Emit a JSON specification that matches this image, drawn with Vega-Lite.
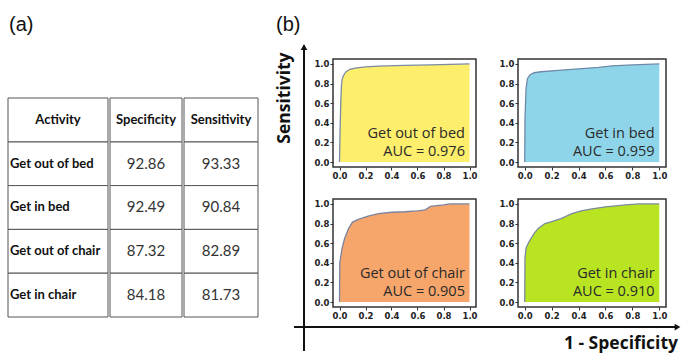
{
  "$schema": "https://vega.github.io/schema/vega-lite/v6.json",
  "background": "white",
  "padding": {"left": 7, "top": 14, "right": 0, "bottom": 0},
  "spacing": 16,
  "config": {
    "view": {"stroke": "#333", "strokeWidth": 1.5},
    "axis": {"labelFont": "DejaVu Sans", "labelFontSize": 8.5, "labelFontWeight": "bold", "labelColor": "#222", "tickColor": "#333", "tickSize": 3, "domain": false, "grid": false, "labelPadding": 1, "labelOverlap": false, "tickCount": 10}
  },
  "datasets": {
    "table": [
      {"Activity": "Get out of bed", "Specificity": 92.86, "Sensitivity": 93.33},
      {"Activity": "Get in bed", "Specificity": 92.49, "Sensitivity": 90.84},
      {"Activity": "Get out of chair", "Specificity": 87.32, "Sensitivity": 82.89},
      {"Activity": "Get in chair", "Specificity": 84.18, "Sensitivity": 81.73}
    ],
    "labels": [
      {"panel": "Get out of bed", "auc": "AUC = 0.976"},
      {"panel": "Get in bed", "auc": "AUC = 0.959"},
      {"panel": "Get out of chair", "auc": "AUC = 0.905"},
      {"panel": "Get in chair", "auc": "AUC = 0.910"}
    ],
    "roc": [
      {"panel": "Get out of bed", "fpr": 0, "tpr": 0},
      {"panel": "Get out of bed", "fpr": 0.004, "tpr": 0.3},
      {"panel": "Get out of bed", "fpr": 0.01, "tpr": 0.62},
      {"panel": "Get out of bed", "fpr": 0.015, "tpr": 0.78},
      {"panel": "Get out of bed", "fpr": 0.02, "tpr": 0.84},
      {"panel": "Get out of bed", "fpr": 0.03, "tpr": 0.88},
      {"panel": "Get out of bed", "fpr": 0.05, "tpr": 0.92},
      {"panel": "Get out of bed", "fpr": 0.08, "tpr": 0.945},
      {"panel": "Get out of bed", "fpr": 0.12, "tpr": 0.958},
      {"panel": "Get out of bed", "fpr": 0.2, "tpr": 0.97},
      {"panel": "Get out of bed", "fpr": 0.3, "tpr": 0.978},
      {"panel": "Get out of bed", "fpr": 0.5, "tpr": 0.985},
      {"panel": "Get out of bed", "fpr": 0.7, "tpr": 0.99},
      {"panel": "Get out of bed", "fpr": 0.85, "tpr": 0.995},
      {"panel": "Get out of bed", "fpr": 1, "tpr": 1},
      {"panel": "Get in bed", "fpr": 0, "tpr": 0},
      {"panel": "Get in bed", "fpr": 0.002, "tpr": 0.45},
      {"panel": "Get in bed", "fpr": 0.01, "tpr": 0.75},
      {"panel": "Get in bed", "fpr": 0.02, "tpr": 0.85},
      {"panel": "Get in bed", "fpr": 0.04, "tpr": 0.89},
      {"panel": "Get in bed", "fpr": 0.07, "tpr": 0.91},
      {"panel": "Get in bed", "fpr": 0.12, "tpr": 0.92},
      {"panel": "Get in bed", "fpr": 0.25, "tpr": 0.935},
      {"panel": "Get in bed", "fpr": 0.4, "tpr": 0.95},
      {"panel": "Get in bed", "fpr": 0.55, "tpr": 0.965},
      {"panel": "Get in bed", "fpr": 0.65, "tpr": 0.98},
      {"panel": "Get in bed", "fpr": 0.8, "tpr": 0.99},
      {"panel": "Get in bed", "fpr": 0.9, "tpr": 0.995},
      {"panel": "Get in bed", "fpr": 1, "tpr": 1},
      {"panel": "Get out of chair", "fpr": 0, "tpr": 0},
      {"panel": "Get out of chair", "fpr": 0.002, "tpr": 0.4},
      {"panel": "Get out of chair", "fpr": 0.02, "tpr": 0.55},
      {"panel": "Get out of chair", "fpr": 0.04, "tpr": 0.65},
      {"panel": "Get out of chair", "fpr": 0.07, "tpr": 0.75},
      {"panel": "Get out of chair", "fpr": 0.1, "tpr": 0.815},
      {"panel": "Get out of chair", "fpr": 0.15, "tpr": 0.845},
      {"panel": "Get out of chair", "fpr": 0.22, "tpr": 0.875},
      {"panel": "Get out of chair", "fpr": 0.3, "tpr": 0.9},
      {"panel": "Get out of chair", "fpr": 0.4, "tpr": 0.915},
      {"panel": "Get out of chair", "fpr": 0.5, "tpr": 0.92},
      {"panel": "Get out of chair", "fpr": 0.6, "tpr": 0.93},
      {"panel": "Get out of chair", "fpr": 0.66, "tpr": 0.94},
      {"panel": "Get out of chair", "fpr": 0.7, "tpr": 0.975},
      {"panel": "Get out of chair", "fpr": 0.8, "tpr": 0.99},
      {"panel": "Get out of chair", "fpr": 0.85, "tpr": 1},
      {"panel": "Get out of chair", "fpr": 1, "tpr": 1},
      {"panel": "Get in chair", "fpr": 0, "tpr": 0},
      {"panel": "Get in chair", "fpr": 0.002, "tpr": 0.45},
      {"panel": "Get in chair", "fpr": 0.01, "tpr": 0.55},
      {"panel": "Get in chair", "fpr": 0.03, "tpr": 0.61},
      {"panel": "Get in chair", "fpr": 0.07, "tpr": 0.7},
      {"panel": "Get in chair", "fpr": 0.1, "tpr": 0.75},
      {"panel": "Get in chair", "fpr": 0.15, "tpr": 0.8},
      {"panel": "Get in chair", "fpr": 0.2, "tpr": 0.82},
      {"panel": "Get in chair", "fpr": 0.27, "tpr": 0.85},
      {"panel": "Get in chair", "fpr": 0.35, "tpr": 0.9},
      {"panel": "Get in chair", "fpr": 0.42, "tpr": 0.93},
      {"panel": "Get in chair", "fpr": 0.5, "tpr": 0.95},
      {"panel": "Get in chair", "fpr": 0.6, "tpr": 0.97},
      {"panel": "Get in chair", "fpr": 0.75, "tpr": 0.99},
      {"panel": "Get in chair", "fpr": 0.85, "tpr": 1},
      {"panel": "Get in chair", "fpr": 1, "tpr": 1}
    ]
  },
  "hconcat": [
    {
      "spacing": 0,
      "hconcat": [
        {
          "width": 100, "height": 258,
          "view": {"stroke": null},
          "layer": [
            {
              "data": {"name": "table"},
              "mark": {"type": "rect", "fill": "white", "stroke": "#555", "strokeWidth": 1},
              "encoding": {"y": {"field": "Activity", "type": "nominal", "scale": {"domain": ["Activity", "Get out of bed", "Get in bed", "Get out of chair", "Get in chair"], "paddingInner": 0, "paddingOuter": 0.445, "align": 1}, "axis": null}}
            },
            {
              "data": {"values": [{"header": "Activity"}]},
              "mark": {"type": "rect", "fill": "white", "stroke": "#555", "strokeWidth": 1},
              "encoding": {"y": {"datum": "Activity", "type": "nominal"}}
            },
            {
              "data": {"values": [{"header": "Activity"}]},
              "mark": {"type": "text", "font": "Lato", "fontSize": 13, "fontWeight": "bold", "color": "#111"},
              "encoding": {"y": {"datum": "Activity", "type": "nominal"}, "text": {"field": "header"}}
            },
            {
              "data": {"values": [{"panel": "(a)"}]},
              "mark": {"type": "text", "font": "Liberation Sans", "fontSize": 20, "color": "#111", "align": "left", "baseline": "middle", "dx": -49, "dy": -95},
              "encoding": {"y": {"datum": "Activity", "type": "nominal"}, "text": {"field": "panel"}}
            },
            {
              "data": {"name": "table"},
              "mark": {"type": "text", "font": "Lato", "fontSize": 13, "fontWeight": "bold", "color": "#111", "align": "left", "dx": -48},
              "encoding": {"y": {"field": "Activity", "type": "nominal"}, "text": {"field": "Activity"}}
            }
          ]
        },
        {
          "width": 72, "height": 258,
          "view": {"stroke": null},
          "layer": [
            {
              "data": {"name": "table"},
              "mark": {"type": "rect", "fill": "white", "stroke": "#555", "strokeWidth": 1},
              "encoding": {"y": {"field": "Activity", "type": "nominal", "scale": {"domain": ["Activity", "Get out of bed", "Get in bed", "Get out of chair", "Get in chair"], "paddingInner": 0, "paddingOuter": 0.445, "align": 1}, "axis": null}}
            },
            {
              "data": {"values": [{"header": "Specificity"}]},
              "mark": {"type": "rect", "fill": "white", "stroke": "#555", "strokeWidth": 1},
              "encoding": {"y": {"datum": "Activity", "type": "nominal"}}
            },
            {
              "data": {"values": [{"header": "Specificity"}]},
              "mark": {"type": "text", "font": "Lato", "fontSize": 13, "fontWeight": "bold", "color": "#111"},
              "encoding": {"y": {"datum": "Activity", "type": "nominal"}, "text": {"field": "header"}}
            },
            {
              "data": {"name": "table"},
              "mark": {"type": "text", "font": "Lato", "fontSize": 15, "color": "#333"},
              "encoding": {"y": {"field": "Activity", "type": "nominal"}, "text": {"field": "Specificity", "format": ".2f"}}
            }
          ]
        },
        {
          "width": 74, "height": 258,
          "view": {"stroke": null},
          "layer": [
            {
              "data": {"name": "table"},
              "mark": {"type": "rect", "fill": "white", "stroke": "#555", "strokeWidth": 1},
              "encoding": {"y": {"field": "Activity", "type": "nominal", "scale": {"domain": ["Activity", "Get out of bed", "Get in bed", "Get out of chair", "Get in chair"], "paddingInner": 0, "paddingOuter": 0.445, "align": 1}, "axis": null}}
            },
            {
              "data": {"values": [{"header": "Sensitivity"}]},
              "mark": {"type": "rect", "fill": "white", "stroke": "#555", "strokeWidth": 1},
              "encoding": {"y": {"datum": "Activity", "type": "nominal"}}
            },
            {
              "data": {"values": [{"header": "Sensitivity"}]},
              "mark": {"type": "text", "font": "Lato", "fontSize": 13, "fontWeight": "bold", "color": "#111"},
              "encoding": {"y": {"datum": "Activity", "type": "nominal"}, "text": {"field": "header"}}
            },
            {
              "data": {"name": "table"},
              "mark": {"type": "text", "font": "Lato", "fontSize": 15, "color": "#333"},
              "encoding": {"y": {"field": "Activity", "type": "nominal"}, "text": {"field": "Sensitivity", "format": ".2f"}}
            }
          ]
        }
      ]
    },
    {
      "columns": 2,
      "bounds": "flush",
      "align": "each",
      "spacing": {"row": 32, "column": 42},
      "concat": [
        {
          "width": 143, "height": 108,
          "layer": [
            {
              "data": {"name": "roc"},
              "transform": [{"filter": "datum.panel === 'Get out of bed'"}],
              "mark": {"type": "area", "color": "#FDEE6C", "opacity": 1, "line": {"color": "#7A8BA3", "strokeWidth": 1.3}},
              "encoding": {
                "x": {"field": "fpr", "type": "quantitative", "scale": {"domain": [-0.05, 1.05], "nice": false, "zero": false}, "axis": {"values": [0, 0.2, 0.4, 0.6, 0.8, 1], "format": ".1f", "title": null}},
                "y": {"field": "tpr", "type": "quantitative", "scale": {"domain": [-0.05, 1.05], "nice": false, "zero": false}, "axis": {"values": [0, 0.2, 0.4, 0.6, 0.8, 1], "format": ".1f", "title": null}},
                "y2": {"datum": 0}
              }
            },
            {
              "data": {"name": "labels"},
              "transform": [{"filter": "datum.panel === 'Get out of bed'"}],
              "mark": {"type": "text", "font": "Open Sans", "fontSize": 14.5, "color": "#2a2a2a", "align": "right", "baseline": "alphabetic"},
              "encoding": {"x": {"datum": 0.965}, "y": {"datum": 0.25}, "text": {"field": "panel"}}
            },
            {
              "data": {"name": "labels"},
              "transform": [{"filter": "datum.panel === 'Get out of bed'"}],
              "mark": {"type": "text", "font": "Open Sans", "fontSize": 14.5, "color": "#2a2a2a", "align": "right", "baseline": "alphabetic"},
              "encoding": {"x": {"datum": 0.965}, "y": {"datum": 0.06}, "text": {"field": "auc"}}
            },
            {
              "data": {"values": [{"panel": "(b)"}]},
              "mark": {"type": "text", "font": "Liberation Sans", "fontSize": 20, "color": "#111", "align": "left", "baseline": "middle"},
              "encoding": {"x": {"datum": -0.488}, "y": {"datum": 1.397}, "text": {"field": "panel"}}
            },
            {
              "data": {"values": [{"axis": "Sensitivity"}]},
              "mark": {"type": "rule", "color": "#111", "strokeWidth": 2},
              "encoding": {"x": {"datum": -0.273}, "y": {"datum": -1.925}, "y2": {"datum": 1.19}}
            },
            {
              "data": {"values": [{"axis": "Sensitivity"}]},
              "mark": {"type": "point", "shape": "triangle-up", "filled": true, "color": "#111", "size": 45, "opacity": 1},
              "encoding": {"x": {"datum": -0.273}, "y": {"datum": 1.17}}
            },
            {
              "data": {"values": [{"axis": "Sensitivity"}]},
              "mark": {"type": "text", "font": "Open Sans", "fontSize": 17.5, "fontWeight": "bold", "color": "#111", "angle": 270, "align": "center", "baseline": "middle"},
              "encoding": {"x": {"datum": -0.419}, "y": {"datum": 0.652}, "text": {"field": "axis"}}
            }
          ]
        },
        {
          "width": 148, "height": 108,
          "layer": [
            {
              "data": {"name": "roc"},
              "transform": [{"filter": "datum.panel === 'Get in bed'"}],
              "mark": {"type": "area", "color": "#8FD5EA", "opacity": 1, "line": {"color": "#6F8AA8", "strokeWidth": 1.3}},
              "encoding": {
                "x": {"field": "fpr", "type": "quantitative", "scale": {"domain": [-0.05, 1.05], "nice": false, "zero": false}, "axis": {"values": [0, 0.2, 0.4, 0.6, 0.8, 1], "format": ".1f", "title": null}},
                "y": {"field": "tpr", "type": "quantitative", "scale": {"domain": [-0.05, 1.05], "nice": false, "zero": false}, "axis": {"values": [0, 0.2, 0.4, 0.6, 0.8, 1], "format": ".1f", "title": null}},
                "y2": {"datum": 0}
              }
            },
            {
              "data": {"name": "labels"},
              "transform": [{"filter": "datum.panel === 'Get in bed'"}],
              "mark": {"type": "text", "font": "Open Sans", "fontSize": 14.5, "color": "#2a2a2a", "align": "right", "baseline": "alphabetic"},
              "encoding": {"x": {"datum": 0.965}, "y": {"datum": 0.25}, "text": {"field": "panel"}}
            },
            {
              "data": {"name": "labels"},
              "transform": [{"filter": "datum.panel === 'Get in bed'"}],
              "mark": {"type": "text", "font": "Open Sans", "fontSize": 14.5, "color": "#2a2a2a", "align": "right", "baseline": "alphabetic"},
              "encoding": {"x": {"datum": 0.965}, "y": {"datum": 0.06}, "text": {"field": "auc"}}
            }
          ]
        },
        {
          "width": 143, "height": 108,
          "layer": [
            {
              "data": {"name": "roc"},
              "transform": [{"filter": "datum.panel === 'Get out of chair'"}],
              "mark": {"type": "area", "color": "#F7A66B", "opacity": 1, "line": {"color": "#7A84A0", "strokeWidth": 1.3}},
              "encoding": {
                "x": {"field": "fpr", "type": "quantitative", "scale": {"domain": [-0.05, 1.05], "nice": false, "zero": false}, "axis": {"values": [0, 0.2, 0.4, 0.6, 0.8, 1], "format": ".1f", "title": null}},
                "y": {"field": "tpr", "type": "quantitative", "scale": {"domain": [-0.05, 1.05], "nice": false, "zero": false}, "axis": {"values": [0, 0.2, 0.4, 0.6, 0.8, 1], "format": ".1f", "title": null}},
                "y2": {"datum": 0}
              }
            },
            {
              "data": {"name": "labels"},
              "transform": [{"filter": "datum.panel === 'Get out of chair'"}],
              "mark": {"type": "text", "font": "Open Sans", "fontSize": 14.5, "color": "#2a2a2a", "align": "right", "baseline": "alphabetic"},
              "encoding": {"x": {"datum": 0.965}, "y": {"datum": 0.25}, "text": {"field": "panel"}}
            },
            {
              "data": {"name": "labels"},
              "transform": [{"filter": "datum.panel === 'Get out of chair'"}],
              "mark": {"type": "text", "font": "Open Sans", "fontSize": 14.5, "color": "#2a2a2a", "align": "right", "baseline": "alphabetic"},
              "encoding": {"x": {"datum": 0.965}, "y": {"datum": 0.06}, "text": {"field": "auc"}}
            },
            {
              "data": {"values": [{"axis": "1 - Specificity"}]},
              "mark": {"type": "rule", "color": "#111", "strokeWidth": 2},
              "encoding": {"x": {"datum": -0.35}, "x2": {"datum": 2.6}, "y": {"datum": -0.254}}
            },
            {
              "data": {"values": [{"axis": "1 - Specificity"}]},
              "mark": {"type": "point", "shape": "triangle-right", "filled": true, "color": "#111", "size": 45, "opacity": 1},
              "encoding": {"x": {"datum": 2.6}, "y": {"datum": -0.254}}
            },
            {
              "data": {"values": [{"axis": "1 - Specificity"}]},
              "mark": {"type": "text", "font": "Open Sans", "fontSize": 17.5, "fontWeight": "bold", "color": "#111", "align": "right", "baseline": "alphabetic"},
              "encoding": {"x": {"datum": 2.604}, "y": {"datum": -0.478}, "text": {"field": "axis"}}
            }
          ]
        },
        {
          "width": 148, "height": 108,
          "layer": [
            {
              "data": {"name": "roc"},
              "transform": [{"filter": "datum.panel === 'Get in chair'"}],
              "mark": {"type": "area", "color": "#B8E422", "opacity": 1, "line": {"color": "#7A8AA0", "strokeWidth": 1.3}},
              "encoding": {
                "x": {"field": "fpr", "type": "quantitative", "scale": {"domain": [-0.05, 1.05], "nice": false, "zero": false}, "axis": {"values": [0, 0.2, 0.4, 0.6, 0.8, 1], "format": ".1f", "title": null}},
                "y": {"field": "tpr", "type": "quantitative", "scale": {"domain": [-0.05, 1.05], "nice": false, "zero": false}, "axis": {"values": [0, 0.2, 0.4, 0.6, 0.8, 1], "format": ".1f", "title": null}},
                "y2": {"datum": 0}
              }
            },
            {
              "data": {"name": "labels"},
              "transform": [{"filter": "datum.panel === 'Get in chair'"}],
              "mark": {"type": "text", "font": "Open Sans", "fontSize": 14.5, "color": "#2a2a2a", "align": "right", "baseline": "alphabetic"},
              "encoding": {"x": {"datum": 0.965}, "y": {"datum": 0.25}, "text": {"field": "panel"}}
            },
            {
              "data": {"name": "labels"},
              "transform": [{"filter": "datum.panel === 'Get in chair'"}],
              "mark": {"type": "text", "font": "Open Sans", "fontSize": 14.5, "color": "#2a2a2a", "align": "right", "baseline": "alphabetic"},
              "encoding": {"x": {"datum": 0.965}, "y": {"datum": 0.06}, "text": {"field": "auc"}}
            }
          ]
        }
      ]
    }
  ]
}
